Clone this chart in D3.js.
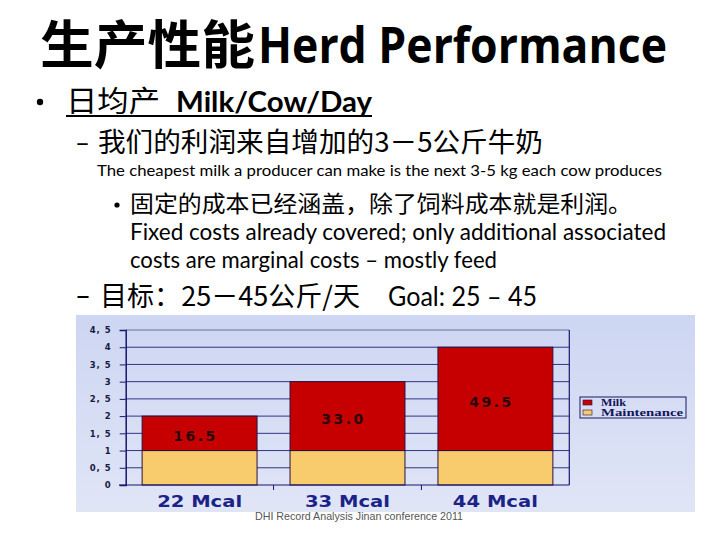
<!DOCTYPE html>
<html><head><meta charset="utf-8">
<script src="https://cdn.jsdelivr.net/npm/d3@7/dist/d3.min.js"></script>
<style>body{margin:0;background:#fff}svg{display:block}</style>
</head><body>
<script>
// ---- data ----
const categories = ["22 Mcal", "33 Mcal", "44 Mcal"];
const seriesNames = ["Milk", "Maintenance"];
const maintenance = [1, 1, 1];
const milk = [1, 2, 3];
const milkLabels = ["16.5", "33.0", "49.5"];
const yTicks = [0, 0.5, 1, 1.5, 2, 2.5, 3, 3.5, 4, 4.5];

const W = 720, H = 540;
const svg = d3.select("body").append("svg").attr("width", W).attr("height", H);
const CJK = "'Noto Sans CJK SC', sans-serif";
const LAT = "Lato, 'Open Sans', sans-serif";

// ---- slide text ----
function txt(x, y, s, size, font, opts = {}) {
  const t = svg.append("text").attr("x", x).attr("y", y).text(s)
    .attr("font-size", size).attr("font-family", font).attr("fill", opts.fill || "#000");
  if (opts.weight) t.attr("font-weight", opts.weight);
  if (opts.len) t.attr("textLength", opts.len).attr("lengthAdjust", "spacingAndGlyphs");
  return t;
}
txt(40, 64, "生产性能", 52, CJK, {weight: 700, len: 215});
txt(258, 63, "Herd Performance", 50, "'Open Sans', Lato, sans-serif", {weight: 700, len: 409});

svg.append("circle").attr("cx", 40).attr("cy", 102).attr("r", 3.2).attr("fill", "#000");
txt(66, 112, "日均产", 29, CJK, {len: 94});
txt(176, 112, "Milk/Cow/Day", 28, LAT, {weight: 700, len: 196});
svg.append("rect").attr("x", 66).attr("y", 115).attr("width", 306).attr("height", 2).attr("fill", "#000");

txt(75, 152, "–", 26, LAT, {len: 15});
txt(98, 152, "我们的利润来自增加的3－5公斤牛奶", 27, CJK, {len: 445});
txt(97, 176, "The cheapest milk a producer can make is the next 3-5 kg  each cow produces", 16, LAT, {len: 565});

svg.append("circle").attr("cx", 117).attr("cy", 205).attr("r", 2.6).attr("fill", "#000");
txt(130, 212, "固定的成本已经涵盖，除了饲料成本就是利润。", 23, CJK, {len: 502});
txt(130, 240, "Fixed costs already covered;  only additional associated", 23, LAT, {len: 536});
txt(130, 268, "costs are marginal costs – mostly feed", 23, LAT, {len: 367});

txt(75, 306, "–", 28, LAT, {len: 16});
txt(100, 306, "目标：25－45公斤/天", 27, CJK, {len: 260});
txt(388, 306, "Goal: 25 – 45", 26, LAT, {len: 149});

// ---- chart ----
const defs = svg.append("defs");
const grad = defs.append("linearGradient").attr("id", "bg").attr("x1", 0).attr("y1", 0).attr("x2", 0).attr("y2", 1);
grad.append("stop").attr("offset", "0%").attr("stop-color", "#cdd6f2");
grad.append("stop").attr("offset", "100%").attr("stop-color", "#e0e5f6");
svg.append("rect").attr("x", 76).attr("y", 315).attr("width", 619).attr("height", 197).attr("fill", "url(#bg)");

const x0 = 125.7, x1 = 569.3, yBot = 485, yTop = 330;
const x = d3.scaleBand().domain(categories).range([x0, x1]).paddingInner(0.223).paddingOuter(0.111);
const xb = d3.scaleBand().domain(categories).range([x0, x1]);
const y = d3.scaleLinear().domain([0, 4.5]).range([yBot, yTop]);
const navy = "#17176e";

// gridlines
svg.append("g").selectAll("line").data(yTicks.filter(d => d > 0)).join("line")
  .attr("x1", x0).attr("x2", x1).attr("y1", d => y(d)).attr("y2", d => y(d))
  .attr("stroke", d => d === 4.5 ? "#5a5f96" : navy).attr("stroke-width", 1).attr("opacity", 0.85);

// y axis
const fmt = d => d3.format("~g")(d).replace(".", ", ");
const yAxis = d3.axisLeft(y).tickValues(yTicks).tickFormat(fmt).tickSize(6).tickPadding(8);
const gy = svg.append("g").attr("transform", `translate(${x0},0)`).call(yAxis);
gy.select(".domain").attr("stroke", navy).attr("stroke-width", 1.5);
gy.selectAll(".tick line").attr("stroke", navy);
gy.selectAll(".tick text").attr("font-family", "'DejaVu Sans', sans-serif").attr("font-weight", 700)
  .attr("font-size", 8.5).attr("letter-spacing", 1).attr("fill", "#1a1a40");

// right frame line
svg.append("line").attr("x1", x1).attr("x2", x1).attr("y1", yTop).attr("y2", yBot).attr("stroke", navy).attr("stroke-width", 1.2);

// stacked bars
const table = categories.map((c, i) => ({cat: c, Maintenance: maintenance[i], Milk: milk[i]}));
const stack = d3.stack().keys(["Maintenance", "Milk"])(table);
const colors = {Milk: "#c60000", Maintenance: "#f8cb6c"};
svg.append("g").selectAll("g").data(stack).join("g").attr("fill", s => colors[s.key])
  .selectAll("rect").data(s => s).join("rect")
  .attr("x", d => x(d.data.cat)).attr("width", x.bandwidth())
  .attr("y", d => y(d[1])).attr("height", d => y(d[0]) - y(d[1]))
  .attr("stroke", "#2a1040").attr("stroke-width", 1);

// value labels
const milkSeries = stack.find(s => s.key === "Milk");
svg.append("g").selectAll("text").data(milkSeries).join("text")
  .attr("x", d => x(d.data.cat) + x.bandwidth() / 2 - 4)
  .attr("y", d => (y(d[0]) + y(d[1])) / 2 + 8)
  .attr("text-anchor", "middle").text((d, i) => milkLabels[i])
  .attr("font-family", "'DejaVu Sans', sans-serif").attr("font-weight", 700)
  .attr("font-size", 14).attr("letter-spacing", 2.5).attr("fill", "#2a0808");

// x axis
const xAxis = d3.axisBottom(xb).tickSize(0).tickPadding(11);
const gx = svg.append("g").attr("transform", `translate(0,${yBot})`).call(xAxis);
gx.select(".domain").remove();
svg.append("line").attr("x1", 119).attr("x2", x1).attr("y1", yBot).attr("y2", yBot).attr("stroke", navy).attr("stroke-width", 1.2);
svg.append("g").selectAll("line").data(categories.slice(1)).join("line")
  .attr("x1", d => xb(d)).attr("x2", d => xb(d)).attr("y1", yBot).attr("y2", yBot + 5)
  .attr("stroke", navy);
gx.selectAll(".tick text").attr("font-family", "'DejaVu Sans', sans-serif").attr("font-weight", 700)
  .attr("font-size", 15).attr("fill", "#1b2388")
  .attr("textLength", 85).attr("lengthAdjust", "spacingAndGlyphs");

// legend
const lg = svg.append("g");
lg.append("rect").attr("x", 580).attr("y", 397).attr("width", 106).attr("height", 21)
  .attr("fill", "none").attr("stroke", "#1a1a60").attr("stroke-width", 1);
const legendLen = {Milk: 25, Maintenance: 82};
seriesNames.forEach((n, i) => {
  const yy = 402.5 + i * 10;
  lg.append("rect").attr("x", 583).attr("y", yy - 2.5).attr("width", 9).attr("height", 5)
    .attr("fill", colors[n]).attr("stroke", "#2a1040").attr("stroke-width", 0.6);
  lg.append("text").attr("x", 601).attr("y", yy + 3).text(n)
    .attr("font-family", "'Liberation Serif', serif").attr("font-weight", 700)
    .attr("font-size", 9.5).attr("fill", "#14145a")
    .attr("textLength", legendLen[n]).attr("lengthAdjust", "spacingAndGlyphs");
});

// footer
svg.append("text").attr("x", 255).attr("y", 520).text("DHI Record Analysis Jinan conference 2011")
  .attr("font-family", "'Liberation Sans Narrow', 'Liberation Sans', sans-serif").attr("font-size", 11)
  .attr("fill", "#555").attr("textLength", 208).attr("lengthAdjust", "spacingAndGlyphs");
</script>
</body></html>
